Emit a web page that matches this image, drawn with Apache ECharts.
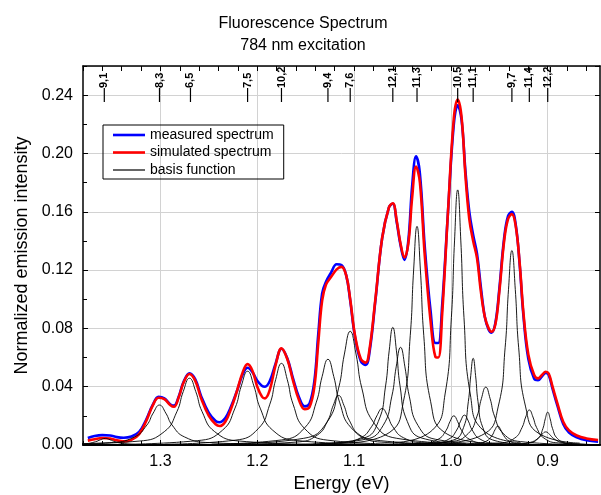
<!DOCTYPE html>
<html><head><meta charset="utf-8">
<script src="https://cdn.jsdelivr.net/npm/echarts@6/dist/echarts.min.js"></script>
<style>html,body{margin:0;padding:0;background:#fff}#c{width:601px;height:495px}</style>
</head><body><div id="c"></div>
<script>
// Energy grid (eV) shared by the measured and simulated spectra
const energy = [1.375,1.368,1.360,1.352,1.345,1.338,1.330,1.322,1.315,1.308,1.302,1.296,1.290,1.286,1.281,1.276,1.270,1.264,1.258,1.250,1.243,1.239,1.233,1.227,1.221,1.215,1.210,1.205,1.200,1.195,1.192,1.187,1.181,1.175,1.169,1.163,1.157,1.151,1.146,1.141,1.137,1.133,1.129,1.124,1.118,1.113,1.108,1.104,1.099,1.093,1.088,1.084,1.078,1.071,1.064,1.060,1.056,1.052,1.048,1.044,1.040,1.036,1.032,1.027,1.021,1.016,1.013,1.009,1.003,0.997,0.993,0.989,0.985,0.981,0.977,0.973,0.969,0.965,0.961,0.958,0.954,0.950,0.945,0.941,0.937,0.933,0.929,0.925,0.920,0.914,0.910,0.906,0.902,0.899,0.895,0.890,0.884,0.878,0.870,0.860,0.848];
const measured = [0.0048,0.0062,0.0068,0.0065,0.0054,0.0050,0.0058,0.0090,0.0170,0.0275,0.0330,0.0320,0.0280,0.0270,0.0335,0.0435,0.0492,0.0450,0.0335,0.0220,0.0165,0.0156,0.0185,0.0265,0.0370,0.0485,0.0530,0.0500,0.0440,0.0405,0.0400,0.0440,0.0560,0.0660,0.0595,0.0455,0.0330,0.0265,0.0285,0.0440,0.0760,0.1040,0.1120,0.1180,0.1240,0.1235,0.1160,0.0990,0.0740,0.0575,0.0550,0.0640,0.0990,0.1420,0.1630,0.1655,0.1530,0.1370,0.1270,0.1400,0.1780,0.1980,0.1860,0.1360,0.0920,0.0700,0.0700,0.0960,0.1600,0.2200,0.2330,0.2230,0.1880,0.1600,0.1440,0.1310,0.1080,0.0880,0.0790,0.0770,0.0840,0.1070,0.1420,0.1570,0.1600,0.1510,0.1240,0.0880,0.0590,0.0455,0.0445,0.0470,0.0495,0.0480,0.0385,0.0270,0.0145,0.0085,0.0052,0.0032,0.0023];
const simulated = [0.0030,0.0040,0.0048,0.0045,0.0032,0.0025,0.0035,0.0075,0.0160,0.0270,0.0324,0.0315,0.0275,0.0262,0.0330,0.0430,0.0487,0.0440,0.0320,0.0200,0.0142,0.0130,0.0160,0.0250,0.0370,0.0500,0.0555,0.0510,0.0400,0.0330,0.0320,0.0380,0.0550,0.0663,0.0590,0.0440,0.0310,0.0245,0.0260,0.0400,0.0700,0.0990,0.1100,0.1150,0.1205,0.1222,0.1160,0.1000,0.0750,0.0590,0.0565,0.0660,0.1000,0.1420,0.1630,0.1658,0.1540,0.1380,0.1287,0.1380,0.1700,0.1910,0.1800,0.1300,0.0850,0.0605,0.0600,0.0900,0.1600,0.2240,0.2370,0.2250,0.1850,0.1550,0.1400,0.1280,0.1050,0.0880,0.0800,0.0777,0.0830,0.1050,0.1400,0.1550,0.1584,0.1500,0.1250,0.0900,0.0620,0.0480,0.0457,0.0480,0.0503,0.0490,0.0400,0.0286,0.0160,0.0100,0.0065,0.0045,0.0034];

// Basis functions: [energy, intensity] samples
const basis_9_1 = [[1.257,0.00004],[1.317,0.00026],[1.337,0.0009],[1.347,0.00225],[1.352,0.0036],[1.357,0.0045],[1.362,0.0036],[1.367,0.00225],[1.377,0.0009],[1.397,0.00026],[1.457,0.00004]];
const basis_8_3 = [[1.171,0.00027],[1.249,0.00161],[1.275,0.00548],[1.288,0.0137],[1.2945,0.0219],[1.301,0.0274],[1.3075,0.0219],[1.314,0.0137],[1.327,0.00548],[1.353,0.00161],[1.431,0.00027]];
const basis_6_5 = [[1.140,0.00045],[1.218,0.00269],[1.244,0.00916],[1.257,0.0229],[1.2635,0.0366],[1.270,0.0458],[1.2765,0.0366],[1.283,0.0229],[1.296,0.00916],[1.322,0.00269],[1.400,0.00045]];
const basis_7_5 = [[1.080,0.0005],[1.158,0.00298],[1.184,0.0101],[1.197,0.0253],[1.2035,0.0405],[1.210,0.0506],[1.2165,0.0405],[1.223,0.0253],[1.236,0.0101],[1.262,0.00298],[1.340,0.0005]];
const basis_10_2 = [[1.055,0.00055],[1.127,0.00329],[1.151,0.0112],[1.163,0.028],[1.169,0.0448],[1.175,0.056],[1.181,0.0448],[1.187,0.028],[1.199,0.0112],[1.223,0.00329],[1.295,0.00055]];
const basis_9_4 = [[1.007,0.00058],[1.079,0.00346],[1.103,0.0118],[1.115,0.0294],[1.121,0.047],[1.127,0.0588],[1.133,0.047],[1.139,0.0294],[1.151,0.0118],[1.175,0.00346],[1.247,0.00058]];
const basis_1116 = [[1.006,0.00034],[1.072,0.002],[1.094,0.0068],[1.105,0.017],[1.1105,0.0272],[1.116,0.034],[1.1215,0.0272],[1.127,0.017],[1.138,0.0068],[1.160,0.002],[1.226,0.00034]];
const basis_7_6 = [[0.984,0.00077],[1.056,0.00459],[1.080,0.0156],[1.092,0.039],[1.098,0.0624],[1.104,0.078],[1.110,0.0624],[1.116,0.039],[1.128,0.0156],[1.152,0.00459],[1.224,0.00077]];
const basis_1071 = [[0.961,0.00025],[1.027,0.00147],[1.049,0.005],[1.060,0.0125],[1.0655,0.02],[1.071,0.025],[1.0765,0.02],[1.082,0.0125],[1.093,0.005],[1.115,0.00147],[1.181,0.00025]];
const basis_12_1 = [[0.985,0.0008],[1.030,0.00475],[1.045,0.0161],[1.0525,0.0404],[1.05625,0.0646],[1.060,0.0807],[1.06375,0.0646],[1.0675,0.0404],[1.075,0.0161],[1.090,0.00475],[1.135,0.0008]];
const basis_1052 = [[0.962,0.00066],[1.016,0.00394],[1.034,0.0134],[1.043,0.0335],[1.0475,0.0536],[1.052,0.067],[1.0565,0.0536],[1.061,0.0335],[1.070,0.0134],[1.088,0.00394],[1.142,0.00066]];
const basis_11_3 = [[0.965,0.00149],[1.007,0.00882],[1.021,0.03],[1.028,0.075],[1.0315,0.12],[1.035,0.15],[1.0385,0.12],[1.042,0.075],[1.049,0.03],[1.063,0.00882],[1.105,0.00149]];
const basis_0997 = [[0.917,0.0002],[0.965,0.00118],[0.981,0.004],[0.989,0.01],[0.993,0.016],[0.997,0.02],[1.001,0.016],[1.005,0.01],[1.013,0.004],[1.029,0.00118],[1.077,0.0002]];
const basis_10_5 = [[0.928,0.00173],[0.967,0.0103],[0.980,0.035],[0.9865,0.0875],[0.98975,0.14],[0.993,0.175],[0.99625,0.14],[0.9995,0.0875],[1.006,0.035],[1.019,0.0103],[1.058,0.00173]];
const basis_0986 = [[0.906,0.0002],[0.954,0.00121],[0.970,0.0041],[0.978,0.01025],[0.982,0.0164],[0.986,0.0205],[0.990,0.0164],[0.994,0.01025],[1.002,0.0041],[1.018,0.00121],[1.066,0.0002]];
const basis_11_1 = [[0.927,0.00059],[0.957,0.0035],[0.967,0.0119],[0.972,0.02975],[0.9745,0.0476],[0.977,0.0595],[0.9795,0.0476],[0.982,0.02975],[0.987,0.0119],[0.997,0.0035],[1.027,0.00059]];
const basis_0964 = [[0.874,0.00039],[0.928,0.00233],[0.946,0.00794],[0.955,0.01985],[0.9595,0.0318],[0.964,0.0397],[0.9685,0.0318],[0.973,0.01985],[0.982,0.00794],[1.000,0.00233],[1.054,0.00039]];
const basis_0952 = [[0.8915,0.00013],[0.9275,0.00076],[0.9395,0.0026],[0.9455,0.0065],[0.9485,0.0104],[0.9515,0.013],[0.9545,0.0104],[0.9575,0.0065],[0.9635,0.0026],[0.9755,0.00076],[1.0115,0.00013]];
const basis_9_7 = [[0.867,0.00132],[0.909,0.00784],[0.923,0.0267],[0.930,0.0667],[0.9335,0.1067],[0.937,0.1334],[0.9405,0.1067],[0.944,0.0667],[0.951,0.0267],[0.965,0.00784],[1.007,0.00132]];
const basis_11_4 = [[0.844,0.00024],[0.889,0.00141],[0.904,0.0048],[0.9115,0.012],[0.91525,0.0192],[0.919,0.024],[0.92275,0.0192],[0.9265,0.012],[0.934,0.0048],[0.949,0.00141],[0.994,0.00024]];
const basis_12_2 = [[0.850,0.00022],[0.880,0.00132],[0.890,0.0045],[0.895,0.01125],[0.8975,0.018],[0.900,0.0225],[0.9025,0.018],[0.905,0.01125],[0.910,0.0045],[0.920,0.00132],[0.950,0.00022]];
const basis_0902 = [[0.822,0.00009],[0.870,0.00053],[0.886,0.0018],[0.894,0.0045],[0.898,0.0072],[0.902,0.009],[0.906,0.0072],[0.910,0.0045],[0.918,0.0018],[0.934,0.00053],[0.982,0.00009]];

const basisFunctions = [basis_9_1,basis_8_3,basis_6_5,basis_7_5,basis_10_2,basis_9_4,basis_1116,basis_7_6,basis_1071,basis_12_1,basis_1052,basis_11_3,basis_0997,basis_10_5,basis_0986,basis_11_1,basis_0964,basis_0952,basis_9_7,basis_11_4,basis_12_2,basis_0902];

// Chirality assignments on the top axis
const chiralityEnergies = [1.358,1.301,1.269,1.210,1.175,1.127,1.104,1.060,1.035,0.993,0.977,0.937,0.919,0.900];
const chiralityLabels = ['9,1','8,3','6,5','7,5','10,2','9,4','7,6','12,1','11,3','10,5','11,1','9,7','11,4','12,2'];

// Axis ticks
const xMajorTicks = [0.9,1.0,1.1,1.2,1.3];
const xMinorTicks = [0.86,0.88,0.90,0.92,0.94,0.96,0.98,1.00,1.02,1.04,1.06,1.08,1.10,1.12,1.14,1.16,1.18,1.20,1.22,1.24,1.26,1.28,1.30,1.32,1.34,1.36,1.38];
const xMin = 0.846, xMax = 1.38;
const yMin = 0, yMax = 0.26;

const FONT = 'Arial, "Liberation Sans", sans-serif';
const pairs = (vals) => energy.map((e, i) => [e, vals[i]]);

const xBase = {type:'value', min:xMin, max:xMax, inverse:true, splitLine:{show:false}, axisLabel:{show:false}, axisLine:{show:false}, axisTick:{show:false}};

const series = [
  {name:'measured spectrum', type:'line', data:pairs(measured), symbol:'none', smooth:0.4, color:'#0000ff', lineStyle:{width:2.6, color:'#0000ff'}, z:3},
  {name:'simulated spectrum', type:'line', data:pairs(simulated), symbol:'none', smooth:0.4, color:'#ff0000', lineStyle:{width:2.6, color:'#ff0000'}, z:4}
];
basisFunctions.forEach(b => series.push({name:'basis function', type:'line', data:b, symbol:'none', smooth:0.5, color:'#000', lineStyle:{width:0.9, color:'#000'}, z:5}));
// drop markers below chirality labels, x from the axis scale, fixed offset from plot top
series.push({type:'custom', name:'chirality marks', silent:true, clip:false, z:6,
  data: chiralityEnergies.map(e => [e, yMax]),
  renderItem:function(params, api){
    const x = api.coord([api.value(0), api.value(1)])[0];
    const top = params.coordSys.y;
    return {type:'line', shape:{x1:x, y1:top+22, x2:x, y2:top+36}, style:{stroke:'#000', lineWidth:1.2}};
  }});

const chart = echarts.init(document.getElementById('c'), null, {renderer:'canvas'});
chart.setOption({
  animation:false,
  backgroundColor:'#fff',
  title:{text:'Fluorescence Spectrum\n784 nm excitation', left:298, textAlign:'center', top:8,
    textStyle:{fontFamily:FONT, fontSize:16, fontWeight:'normal', color:'#000', lineHeight:22}},
  legend:{left:103, top:125, orient:'vertical', symbolKeepAspect:true,
    data:[{name:'measured spectrum', icon:'path://M0,0H32V2.6H0Z'},
          {name:'simulated spectrum', icon:'path://M0,0H32V2.6H0Z'},
          {name:'basis function', icon:'path://M0,0H32V1.2H0Z'}],
    itemWidth:32, itemHeight:14, itemGap:3.5, padding:[3,10,2,10], borderColor:'#000', borderWidth:1, borderRadius:0,
    textStyle:{fontFamily:FONT, fontSize:14, color:'#000'}},
  grid:{left:83, right:1, top:66, bottom:50, containLabel:false, outerBoundsMode:'none'},
  xAxis:[
    Object.assign({}, xBase, {position:'bottom', name:'Energy (eV)', nameLocation:'middle', nameGap:28,
      nameTextStyle:{fontFamily:FONT, fontSize:18, color:'#000'},
      axisLine:{show:true, onZero:false, lineStyle:{color:'#000', width:2}},
      axisTick:{show:true, inside:true, length:5, customValues:xMajorTicks, lineStyle:{color:'#000', width:1}},
      axisLabel:{show:true, customValues:xMajorTicks, formatter:v=>v.toFixed(1), fontFamily:FONT, fontSize:16, color:'#000', margin:9},
      splitLine:{show:true, lineStyle:{color:'#d2d2d2', width:1}}}),
    Object.assign({}, xBase, {position:'bottom',
      axisTick:{show:true, inside:true, length:4, customValues:xMinorTicks, lineStyle:{color:'#000', width:1}}}),
    Object.assign({}, xBase, {position:'top',
      axisLine:{show:true, onZero:false, lineStyle:{color:'#000', width:1.5}},
      axisTick:{show:true, inside:true, length:5, customValues:xMinorTicks, lineStyle:{color:'#000', width:1}}}),
    Object.assign({}, xBase, {position:'top', offset:-23,
      axisLabel:{show:true, customValues:chiralityEnergies, rotate:90, margin:1,
        formatter:function(v){let best=0;for(let i=1;i<chiralityEnergies.length;i++){if(Math.abs(chiralityEnergies[i]-v)<Math.abs(chiralityEnergies[best]-v))best=i;}return chiralityLabels[best];},
        fontFamily:FONT, fontSize:11, fontWeight:'bold', color:'#000'}})
  ],
  yAxis:[
    {type:'value', min:yMin, max:yMax, interval:0.04, position:'left',
      name:'Normalized emission intensity', nameLocation:'middle', nameGap:52,
      nameTextStyle:{fontFamily:FONT, fontSize:18, color:'#000'},
      axisLine:{show:true, onZero:false, lineStyle:{color:'#000', width:1.5}},
      axisTick:{show:true, inside:true, length:5, lineStyle:{color:'#000'}},
      axisLabel:{formatter:v=>v.toFixed(2), showMaxLabel:false, fontFamily:FONT, fontSize:16, color:'#000', margin:10},
      splitLine:{show:true, lineStyle:{color:'#d2d2d2', width:1}}},
    {type:'value', min:yMin, max:yMax, interval:0.02, position:'left',
      axisLine:{show:false}, axisTick:{show:true, inside:true, length:4, lineStyle:{color:'#000'}},
      axisLabel:{show:false}, splitLine:{show:false}},
    {type:'value', min:yMin, max:yMax, interval:0.04, position:'right',
      axisLine:{show:true, onZero:false, lineStyle:{color:'#000', width:1.5}},
      axisTick:{show:true, inside:true, length:5, lineStyle:{color:'#000'}},
      axisLabel:{show:false}, splitLine:{show:false}}
  ],
  series: series
});
</script></body></html>
